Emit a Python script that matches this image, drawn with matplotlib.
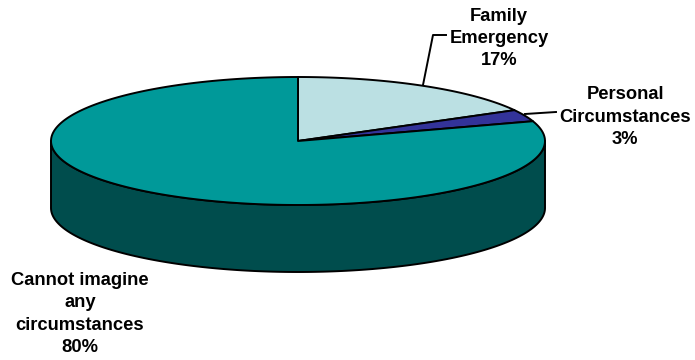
import numpy as np
import matplotlib
matplotlib.use("Agg")
import matplotlib.pyplot as plt
from matplotlib.patches import Polygon

labels = ["Family\nEmergency\n17%", "Personal\nCircumstances\n3%", "Cannot imagine\nany\ncircumstances\n80%"]
shares = [17, 3, 80]
colors = ["#BBE0E3", "#333399", "#009999"]
side_color = "#004D4D"

# ellipse geometry, in pixels
cx, cy = 298, 141
rx, ry = 247, 64
depth = 67


def rim(a, b, dy=0):
    # a, b are fractions of the circle, clockwise from the top
    t = np.linspace(a, b, 200) * 2 * np.pi
    return np.column_stack([cx + rx * np.sin(t), cy + dy - ry * np.cos(t)])


fig = plt.figure(figsize=(6.95, 3.6), dpi=100)
ax = fig.add_axes([0, 0, 1, 1])
ax.set_xlim(0, 695)
ax.set_ylim(360, 0)
ax.axis("off")

# side wall, only the front half shows
side = np.vstack([rim(0.25, 0.75), rim(0.25, 0.75, depth)[::-1]])
ax.add_patch(Polygon(side, closed=True, fc=side_color, ec="black", lw=1.4, joinstyle="round"))

# top slices
start = 0
for share, color in zip(shares, colors):
    end = start + share / sum(shares)
    pts = np.vstack([[cx, cy], rim(start, end)])
    ax.add_patch(Polygon(pts, closed=True, fc=color, ec="black", lw=1.4, joinstyle="round"))
    start = end

# leader lines
ax.plot([423, 433, 446], [85, 35, 35], color="black", lw=1.4)
ax.plot([525, 556], [114, 112], color="black", lw=1.4)

font = dict(family="Liberation Sans", fontweight="bold", fontsize=13.2, ha="center", va="center",
            color="black", linespacing=1.42)
ax.text(499, 38.5, labels[0], **font)
ax.text(625, 117, labels[1], **font)
ax.text(80, 314, labels[2], **font)

fig.savefig("out.png", dpi=100, facecolor="white")
